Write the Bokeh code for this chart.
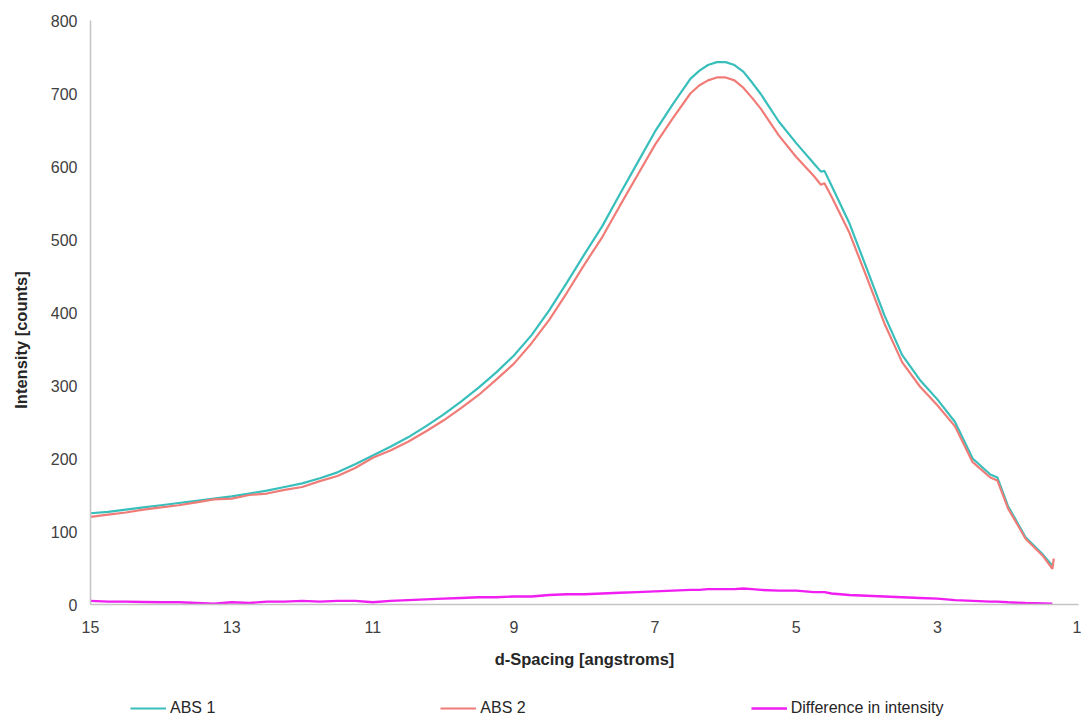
from bokeh.plotting import figure
from bokeh.models import Range1d, FixedTicker, Legend, LegendItem
from bokeh.layouts import column
from bokeh.embed import file_html
from bokeh.resources import INLINE

# d-spacing grid (angstroms)
d_spacing = [15.0, 14.75, 14.5, 14.25, 14.0, 13.75, 13.5, 13.25, 13.0, 12.75, 12.5, 12.25,
             12.0, 11.75, 11.5, 11.25, 11.0, 10.75, 10.5, 10.25, 10.0, 9.75, 9.5, 9.25,
             9.0, 8.75, 8.5, 8.25, 8.0, 7.75, 7.5, 7.25, 7.0, 6.75, 6.5, 6.375, 6.25, 6.125,
             6.0, 5.875, 5.75, 5.625, 5.5, 5.25, 5.0, 4.75, 4.65, 4.6, 4.5, 4.25, 4.0, 3.75,
             3.5, 3.25, 3.0, 2.75, 2.5, 2.25, 2.15, 2.0, 1.75, 1.5, 1.37]

abs1 = [125, 127, 130, 133, 136, 139, 142, 145, 148, 152, 156, 161,
        166, 173, 181, 192, 204, 216, 229, 244, 260, 278, 297, 318,
        341, 369, 403, 441, 480, 518, 562, 605, 648, 685, 720, 731, 739, 743,
        743, 739, 730, 715, 699, 662, 632, 604, 593, 594, 574, 523, 460, 396,
        342, 308, 281, 250, 200, 178, 174, 135, 92, 68, 53]

d_spacing2 = [15.0, 14.75, 14.5, 14.25, 14.0, 13.75, 13.5, 13.25, 13.0, 12.75, 12.5, 12.25,
              12.0, 11.75, 11.5, 11.25, 11.0, 10.75, 10.5, 10.25, 10.0, 9.75, 9.5, 9.25,
              9.0, 8.75, 8.5, 8.25, 8.0, 7.75, 7.5, 7.25, 7.0, 6.75, 6.5, 6.375, 6.25, 6.125,
              6.0, 5.875, 5.75, 5.625, 5.5, 5.25, 5.0, 4.75, 4.65, 4.6, 4.5, 4.25, 4.0, 3.75,
              3.5, 3.25, 3.0, 2.75, 2.5, 2.25, 2.15, 2.0, 1.75, 1.5, 1.37, 1.35]

abs2 = [120, 123, 126, 130, 133, 136, 140, 144, 145, 150, 152, 157,
        161, 169, 176, 187, 201, 211, 223, 237, 252, 269, 287, 308,
        330, 358, 390, 427, 466, 503, 546, 588, 630, 666, 700, 711, 718, 722,
        722, 718, 708, 694, 679, 643, 613, 587, 575, 577, 559, 510, 448, 385,
        332, 299, 273, 244, 195, 174, 170, 132, 90, 66, 49, 63]

difference = [5, 4, 4, 3.5, 3, 3, 2, 1, 3, 2, 4, 4,
              5, 4, 5, 5, 3, 5, 6, 7, 8, 9, 10, 10,
              11, 11, 13, 14, 14, 15, 16, 17, 18, 19, 20, 20, 21, 21,
              21, 21, 22, 21, 20, 19, 19, 17, 17, 17, 15, 13, 12, 11,
              10, 9, 8, 6, 5, 4, 4, 3, 2, 1.5, 1]

series_names = ["ABS 1", "ABS 2", "Difference in intensity"]
series_colors = ["#38BEBB", "#F07C78", "#F01EF0"]
series_widths = [2.2, 2.2, 2.4]

x_ticks = [15, 13, 11, 9, 7, 5, 3, 1]
y_ticks = [0, 100, 200, 300, 400, 500, 600, 700, 800]

FONT = "Liberation Sans"

p = figure(width=1081, height=690, output_backend="svg", toolbar_location=None,
           x_range=Range1d(15, 1), y_range=Range1d(0, 800),
           min_border_left=90, min_border_right=3, min_border_top=20, min_border_bottom=86)

p.line(d_spacing, abs1, line_color=series_colors[0], line_width=series_widths[0])
p.line(d_spacing2, abs2, line_color=series_colors[1], line_width=series_widths[1])
p.line(d_spacing, difference, line_color=series_colors[2], line_width=series_widths[2])

p.grid.visible = False
p.outline_line_color = None
p.background_fill_color = "white"
p.border_fill_color = "white"

for ax in (p.xaxis[0], p.yaxis[0]):
    ax.axis_line_color = "#C4C4C4"
    ax.axis_line_width = 1.5
    ax.major_tick_in = 0
    ax.major_tick_out = 0
    ax.minor_tick_in = 0
    ax.minor_tick_out = 0
    ax.major_label_text_font = FONT
    ax.major_label_text_font_size = "16px"
    ax.major_label_text_color = "#404040"
    ax.axis_label_text_font = FONT
    ax.axis_label_text_font_size = "16.5px"
    ax.axis_label_text_font_style = "bold"
    ax.axis_label_text_color = "#262626"

p.xaxis[0].ticker = FixedTicker(ticks=x_ticks)
p.yaxis[0].ticker = FixedTicker(ticks=y_ticks)
p.xaxis[0].axis_label = "d-Spacing [angstroms]"
p.yaxis[0].axis_label = "Intensity [counts]" + "\u00a0" * 12
p.xaxis[0].major_label_standoff = 16
p.xaxis[0].axis_label_standoff = 14
p.yaxis[0].major_label_standoff = 13
p.yaxis[0].axis_label_standoff = 18

# legend strip below the chart (frames are aligned with the chart above)
leg = figure(width=1081, height=27, output_backend="svg", toolbar_location=None,
             x_range=Range1d(0, 1), y_range=Range1d(0, 1),
             x_axis_type=None, y_axis_type=None,
             min_border_left=0, min_border_right=0, min_border_top=0, min_border_bottom=0)
leg.grid.visible = False
leg.outline_line_color = None
leg.border_fill_color = "white"
items = []
for name, col, w in zip(series_names, series_colors, series_widths):
    # off-range sample line: only its legend swatch is visible
    rr = leg.line([-3, -2], [-3, -2], line_color=col, line_width=w)
    items.append(LegendItem(label=name, renderers=[rr]))

legend = Legend(items=items, orientation="horizontal", location=(40, 0),
                spacing=225, padding=0, margin=0,
                glyph_width=36, glyph_height=16, label_height=16, label_standoff=4,
                label_text_font=FONT, label_text_font_size="16px", label_text_color="#262626",
                border_line_color=None, background_fill_alpha=0)
leg.add_layout(legend, "center")

layout = column(p, leg, spacing=0)
open("out.html", "w").write(file_html(layout, INLINE))
